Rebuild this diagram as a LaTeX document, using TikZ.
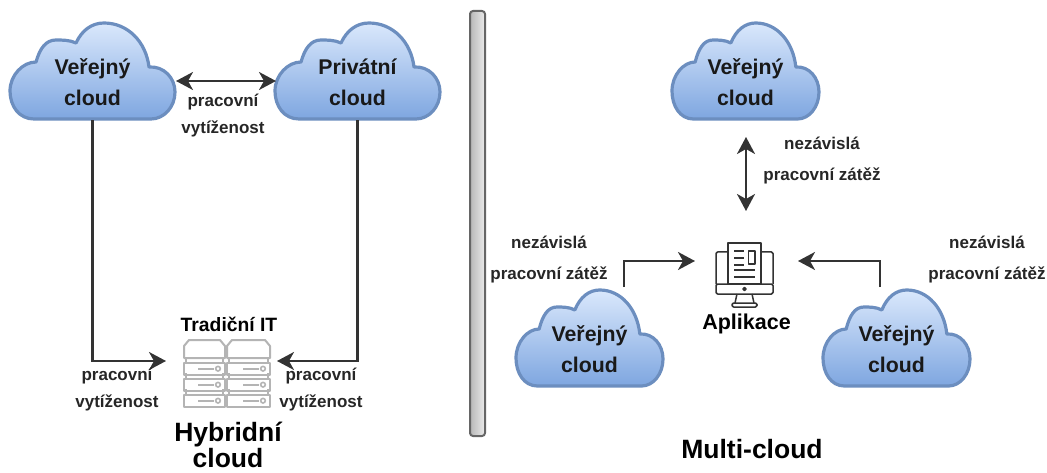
\documentclass[tikz,border=0pt]{standalone}
\usepackage{fontspec}
\setmainfont{Liberation Sans}[BoldFont={Liberation Sans Bold}]
\usetikzlibrary{arrows.meta}
\definecolor{cloudline}{HTML}{6C8EBF}
\definecolor{cloudtop}{HTML}{DAE8FC}
\definecolor{cloudbot}{HTML}{7EA6E0}
\definecolor{wire}{HTML}{333333}
\definecolor{srvgray}{HTML}{B4B4B4}
\tikzset{
  cloudpath/.style={draw=cloudline,line width=3.2pt,top color=cloudtop,bottom color=cloudbot,line join=round},
  cloudlabel/.style={font=\fontsize{21.3}{31}\selectfont\bfseries,align=center,inner sep=0pt,minimum height=76pt,text=black!90},
  smalllabel/.style={font=\fontsize{17}{27}\selectfont\bfseries,align=center,inner sep=0pt,text=black!85},
  widelabel/.style={font=\fontsize{17}{31}\selectfont\bfseries,align=center,inner sep=0pt,text=black!85},
  titlelabel/.style={font=\fontsize{26.5}{30}\selectfont\bfseries,align=center,inner sep=0pt,text=black},
  wiredouble/.style={draw=wire,line width=2.2pt,{Stealth[length=17pt,width=18pt,inset=5pt]}-{Stealth[length=17pt,width=18pt,inset=5pt]}},
  wirebend/.style={draw=wire,line width=2.2pt,line join=miter,-{Stealth[length=17pt,width=18pt,inset=5pt]}},
  divider/.style={draw=black!60,line width=2pt,rounded corners=3pt,left color=black!28,right color=black!8,minimum width=15pt,minimum height=425pt,inner sep=0pt},
  srv/.style={draw=srvgray,line width=2pt,fill=white,line join=round},
  icon/.style={draw=wire,line width=1.5pt,line join=round}
}
% name, left, top, width, height, text
\newcommand{\cloudat}[6]{%
  \begin{scope}[shift={(#2,#3)},xscale=#4/165,yscale=#5/98]
    \path[cloudpath] (24,97) .. controls (9,97) and (0,84) .. (0,69)
      .. controls (0,53) and (13,40) .. (26,40)
      .. controls (30,26) and (36,18) .. (46,18)
      .. controls (52,18) and (60,18) .. (66,21)
      .. controls (72,8) and (82,1) .. (94,1)
      .. controls (118,1) and (136,20) .. (139,45)
      .. controls (154,44) and (165,56) .. (165,70)
      .. controls (165,85) and (154,97) .. (141,97) -- cycle;
  \end{scope}
  \node[cloudlabel,minimum width=#4pt] (#1) at ({#2+#4/2},{#3+#5-38}) {#6};%
}
\newcommand{\srvcol}[2]{%
  \path[srv] (#1,358) -- (#1,346) -- ({#1+5},340) -- ({#1+#2-5},340) -- ({#1+#2},346) -- ({#1+#2},358) -- cycle;
  \foreach \yy in {363,379,395}{
    \draw[srvgray,line width=2pt] ({#1+2},{\yy-6}) -- ({#1+2},\yy) ({#1+#2-2},{\yy-6}) -- ({#1+#2-2},\yy);
    \path[srv] (#1,\yy) rectangle ({#1+#2},{\yy+11.5});
    \draw[srvgray,line width=1.7pt] ({#1+#2-27},{\yy+5.7}) -- ({#1+#2-11},{\yy+5.7});
    \draw[srvgray,line width=1.6pt] ({#1+#2-7},{\yy+5.7}) circle (2.3pt);
  }%
}
\begin{document}
\begin{tikzpicture}[x=1pt,y=-1pt]
\useasboundingbox (0,0) rectangle (1047,473);
% divider
\node[divider] (bar) at (477.5,223.5) {};
% left clouds
\cloudat{pubL}{10}{22}{165}{98}{Veřejný\\cloud}
\cloudat{priv}{275}{22}{165}{98}{Privátní\\cloud}
% right clouds
\cloudat{pubT}{672}{22}{147}{98}{Veřejný\\cloud}
\cloudat{pubA}{516}{289}{147}{98}{Veřejný\\cloud}
\cloudat{pubB}{823}{289}{147}{98}{Veřejný\\cloud}
% server icon
\srvcol{184}{41}
\srvcol{227}{43}
\node[inner sep=0pt,minimum width=86pt,minimum height=68pt] (server) at (227,374) {};
% application icon
\draw[icon,rounded corners=1.5pt] (716,284) -- (716,252) -- (773,252) -- (773,284);
\draw[icon,rounded corners=1.5pt] (716,284) rectangle (773,294);
\path[icon,fill=white] (728,284) -- (728,243) -- (761,243) -- (761,284) -- cycle;
\draw[icon] (734,251) -- (744,251) (734,258) -- (744,258) (734,265) -- (744,265) (734,270) -- (755,270) (734,277) -- (755,277);
\draw[icon] (748.5,251) rectangle (755,264);
\draw[icon] (744.5,289) circle (1.5pt);
\draw[icon] (737,294) -- (735,303) (752,294) -- (754,303);
\draw[icon,rounded corners=1.5pt] (732,303) rectangle (757,307);
\node[inner sep=0pt,minimum width=57pt,minimum height=64pt] (app) at (744.5,275) {};
% connector end points
\coordinate (srvLeft) at (166,361);
\coordinate (srvRight) at (277,361);
\coordinate (appLeft) at (695,261);
\coordinate (appRight) at (798,261);
\coordinate (topA) at (624,287);
\coordinate (topB) at (880,287);
\coordinate (pubLE) at (176,81);
\coordinate (privW) at (276,81);
\coordinate (pubTS) at (746,137);
\coordinate (appN) at (746,211);
% connectors
\draw[wiredouble] (pubLE) -- (privW);
\draw[wirebend] (pubL.south) |- (srvLeft);
\draw[wirebend] (priv.south) |- (srvRight);
\draw[wiredouble] (pubTS) -- (appN);
\draw[wirebend] (topA) |- (appLeft);
\draw[wirebend] (topB) |- (appRight);
% labels
\node[smalllabel] (lblTop) at (223,116) {pracovní\\vytíženost};
\node[smalllabel] (lblSrvL) at (117,390) {pracovní\\vytíženost};
\node[smalllabel] (lblSrvR) at (321,390) {pracovní\\vytíženost};
\node[widelabel] (lblAppT) at (822,161) {nezávislá\\pracovní zátěž};
\node[widelabel] (lblAppL) at (549,260) {nezávislá\\pracovní zátěž};
\node[widelabel] (lblAppR) at (987,260) {nezávislá\\pracovní zátěž};
\node[inner sep=0pt,font=\fontsize{19.3}{22}\selectfont\bfseries] (tradit) at (229,324) {Tradiční IT};
\node[inner sep=0pt,font=\fontsize{21.5}{24}\selectfont\bfseries] (applbl) at (746.5,324) {Aplikace};
\node[titlelabel,anchor=base] (hyb1) at (228,441) {Hybridní};
\node[titlelabel,anchor=base] (hyb2) at (228,467.5) {cloud};
\node[titlelabel,anchor=base] (multi) at (752,458) {Multi-cloud};
\end{tikzpicture}
\end{document}
